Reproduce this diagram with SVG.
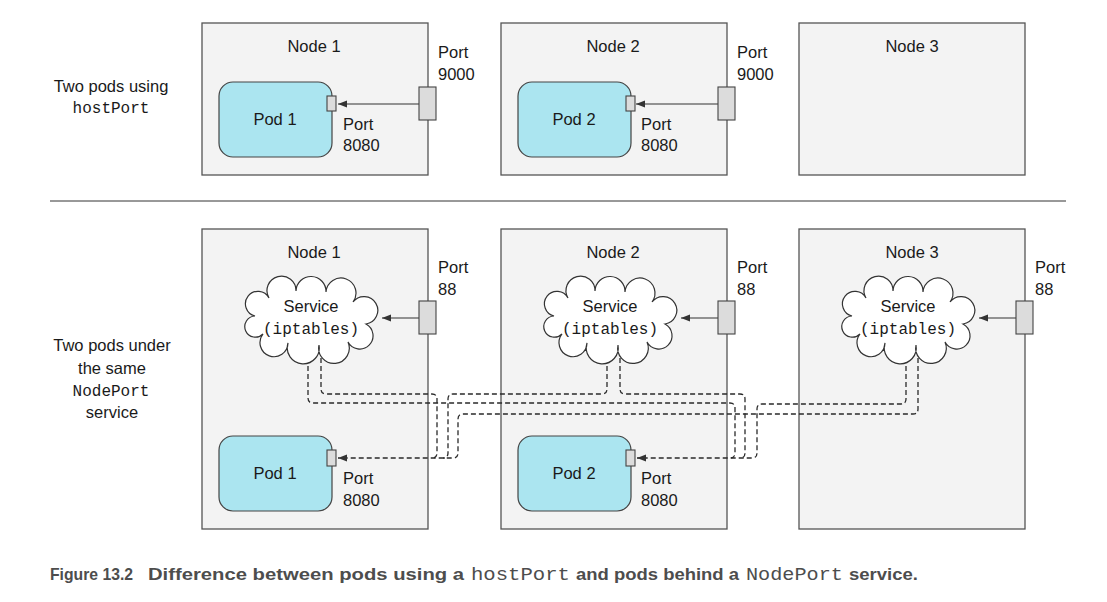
<svg xmlns="http://www.w3.org/2000/svg" width="1107" height="602" viewBox="0 0 1107 602">
<style>
.node{fill:#f3f3f3;stroke:#555;stroke-width:1.3}
.pod{fill:#abe5f0;stroke:#444;stroke-width:1.2}
.port{fill:#dcdcdc;stroke:#444;stroke-width:1.1}
.cloud{fill:#fff;stroke:#333;stroke-width:1.2}
.t{font-family:"Liberation Sans",Arial,sans-serif;font-size:16.5px;fill:#1a1a1a}
.c{text-anchor:middle}
.m{font-family:"Liberation Mono","Courier New",monospace;font-size:16px;fill:#1a1a1a}
.arr{stroke:#333;stroke-width:1.2;fill:none;marker-end:url(#ah)}
.dash{stroke:#2a2a2a;stroke-width:1.3;fill:none;stroke-dasharray:5 3}
.dashA{stroke:#2a2a2a;stroke-width:1.3;fill:none;stroke-dasharray:5 3;marker-end:url(#ah)}
.cap{font-family:"Liberation Sans Narrow","Liberation Sans",Arial,sans-serif;font-weight:bold;font-size:17px;fill:#4d4d4d}
.capm{font-family:"Liberation Mono","Courier New",monospace;font-size:18px;fill:#4d4d4d}
</style>
<defs>
<marker id="ah" markerUnits="userSpaceOnUse" markerWidth="10" markerHeight="8" refX="9" refY="3.5" orient="auto">
<path d="M0,0 L9,3.5 L0,7 z" fill="#333"/>
</marker>
<path id="cloudShape" class="cloud" d="M-56,-2 A12.5,12.5 0 1 1 -42,-20 A14.5,14.5 0 1 1 -15,-27 A15,15 0 1 1 15,-26 A15,15 0 1 1 42,-16 A13.8,13.8 0 1 1 55,6 A13.3,13.3 0 1 1 37,24 A15.3,15.3 0 1 1 8,27 A16,16 0 1 1 -23,25 A14,14 0 1 1 -48,16 A10.6,10.6 0 1 1 -56,-2 Z"/>
</defs>

<!-- left labels -->
<g id="label-top">
<text class="t c" x="111" y="92">Two pods using</text>
<text class="m c" x="111" y="113">hostPort</text>
</g>
<g id="label-bottom">
<text class="t c" x="112" y="351">Two pods under</text>
<text class="t c" x="112" y="374">the same</text>
<text class="m c" x="111" y="396">NodePort</text>
<text class="t c" x="112" y="418">service</text>
</g>

<line x1="50" y1="201" x2="1066" y2="201" stroke="#333" stroke-width="1"/>

<!-- top row nodes -->
<g id="top-node1">
<rect class="node" x="202" y="23" width="226" height="152"/>
<text class="t c" x="314" y="52">Node 1</text>
<text class="t" x="438" y="58">Port</text>
<text class="t" x="438" y="80">9000</text>
<text class="t" x="343" y="130">Port</text>
<text class="t" x="343" y="151">8080</text>
</g>
<g id="top-node2">
<rect class="node" x="501" y="23" width="226" height="152"/>
<text class="t c" x="613" y="52">Node 2</text>
<text class="t" x="737" y="58">Port</text>
<text class="t" x="737" y="80">9000</text>
<text class="t" x="641" y="130">Port</text>
<text class="t" x="641" y="151">8080</text>
</g>
<g id="top-node3">
<rect class="node" x="799" y="23" width="226" height="152"/>
<text class="t c" x="912" y="52">Node 3</text>
</g>

<!-- bottom row nodes -->
<g id="bot-node1">
<rect class="node" x="202" y="229" width="226" height="300"/>
<text class="t c" x="314" y="258">Node 1</text>
<text class="t" x="438" y="273">Port</text>
<text class="t" x="438" y="295">88</text>
<text class="t" x="343" y="484">Port</text>
<text class="t" x="343" y="506">8080</text>
</g>
<g id="bot-node2">
<rect class="node" x="501" y="229" width="226" height="300"/>
<text class="t c" x="613" y="258">Node 2</text>
<text class="t" x="737" y="273">Port</text>
<text class="t" x="737" y="295">88</text>
<text class="t" x="641" y="484">Port</text>
<text class="t" x="641" y="506">8080</text>
</g>
<g id="bot-node3">
<rect class="node" x="799" y="229" width="226" height="300"/>
<text class="t c" x="912" y="258">Node 3</text>
<text class="t" x="1035" y="273">Port</text>
<text class="t" x="1035" y="295">88</text>
</g>

<!-- connectors -->
<g id="connectors">
<line class="arr" x1="419" y1="104" x2="338" y2="104"/>
<line class="arr" x1="718" y1="104" x2="636" y2="104"/>
<line class="arr" x1="419" y1="318" x2="382" y2="318"/>
<line class="arr" x1="718" y1="318" x2="681" y2="318"/>
<line class="arr" x1="1016" y1="318" x2="979" y2="318"/>
<path class="dash" d="M321,358 V389 Q321,394 326,394 H432 Q437,394 437,399 V453 Q437,458 432,458"/>
<path class="dash" d="M308,358 V398 Q308,403 313,403 H730 Q735,403 735,408 V453 Q735,458 730,458"/>
<path class="dash" d="M607,358 V389 Q607,394 602,394 H453 Q448,394 448,399 V453 Q448,458 443,458"/>
<path class="dash" d="M620,358 V389 Q620,394 625,394 H740 Q745,394 745,399 V453 Q745,458 740,458"/>
<path class="dashA" d="M906,358 V399 Q906,404 901,404 H762 Q757,404 757,409 V453 Q757,458 752,458 H637"/>
<path class="dashA" d="M918,358 V409 Q918,414 913,414 H463 Q458,414 458,419 V453 Q458,458 453,458 H338"/>
</g>

<!-- ports on node edges -->
<g id="ports">
<rect class="port" x="419" y="87" width="17" height="33"/>
<rect class="port" x="718" y="87" width="17" height="33"/>
<rect class="port" x="419" y="301" width="17" height="33"/>
<rect class="port" x="718" y="301" width="17" height="33"/>
<rect class="port" x="1016" y="301" width="17" height="33"/>
</g>

<!-- pods -->
<g id="top-pod1">
<rect class="pod" x="219" y="82" width="113" height="75" rx="14"/>
<rect class="port" x="327" y="96" width="9" height="15"/>
<text class="t c" x="275" y="125">Pod 1</text>
</g>
<g id="top-pod2">
<rect class="pod" x="518" y="82" width="113" height="75" rx="14"/>
<rect class="port" x="626" y="96" width="9" height="15"/>
<text class="t c" x="574" y="125">Pod 2</text>
</g>
<g id="bot-pod1">
<rect class="pod" x="219" y="436" width="113" height="75" rx="14"/>
<rect class="port" x="327" y="450" width="9" height="16"/>
<text class="t c" x="275" y="479">Pod 1</text>
</g>
<g id="bot-pod2">
<rect class="pod" x="518" y="436" width="113" height="75" rx="14"/>
<rect class="port" x="626" y="450" width="9" height="16"/>
<text class="t c" x="574" y="479">Pod 2</text>
</g>

<!-- services -->
<g id="service1">
<use href="#cloudShape" x="311" y="318"/>
<text class="t c" x="311" y="312">Service</text>
<text class="m c" x="311" y="334">(iptables)</text>
</g>
<g id="service2">
<use href="#cloudShape" x="610" y="318"/>
<text class="t c" x="610" y="312">Service</text>
<text class="m c" x="610" y="334">(iptables)</text>
</g>
<g id="service3">
<use href="#cloudShape" x="908" y="318"/>
<text class="t c" x="908" y="312">Service</text>
<text class="m c" x="908" y="334">(iptables)</text>
</g>

<!-- caption -->
<g id="caption">
<text class="cap" x="50" y="580" textLength="83" lengthAdjust="spacingAndGlyphs">Figure 13.2</text>
<text class="cap" x="148" y="580" textLength="316" lengthAdjust="spacingAndGlyphs">Difference between pods using a</text>
<text class="capm" x="471" y="580" textLength="99" lengthAdjust="spacingAndGlyphs">hostPort</text>
<text class="cap" x="576" y="580" textLength="163" lengthAdjust="spacingAndGlyphs">and pods behind a</text>
<text class="capm" x="746" y="580" textLength="97" lengthAdjust="spacingAndGlyphs">NodePort</text>
<text class="cap" x="849" y="580" textLength="69" lengthAdjust="spacingAndGlyphs">service.</text>
</g>
</svg>
